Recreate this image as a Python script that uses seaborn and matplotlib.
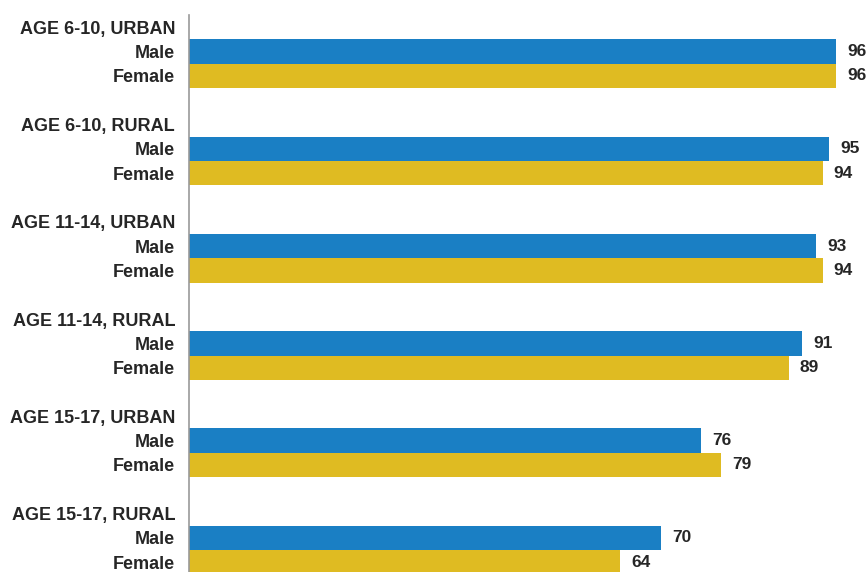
import pandas as pd
import matplotlib.pyplot as plt
import seaborn as sns

groups = ["AGE 6-10, URBAN", "AGE 6-10, RURAL", "AGE 11-14, URBAN",
          "AGE 11-14, RURAL", "AGE 15-17, URBAN", "AGE 15-17, RURAL"]
male = [96, 95, 93, 91, 76, 70]
female = [96, 94, 94, 89, 79, 64]

# one row per bar, plus header and spacer rows for the y axis
rows = []
order = []
labels = []
for i, g in enumerate(groups):
    order.append(g)
    labels.append(g)
    rows.append({"key": g + "|M", "sex": "Male", "value": male[i]})
    rows.append({"key": g + "|F", "sex": "Female", "value": female[i]})
    order += [g + "|M", g + "|F"]
    labels += ["Male", "Female"]
    if i < len(groups) - 1:
        order.append(g + "|gap")
        labels.append("")
df = pd.DataFrame(rows)

sns.set_style("white")
plt.rcParams["font.family"] = ["Liberation Sans", "DejaVu Sans"]

fig = plt.figure(figsize=(8.68, 5.72), dpi=100)
ax = fig.add_axes([189 / 868, 0, 674 / 868, 557 / 572])

sns.barplot(data=df, x="value", y="key", hue="sex", order=order,
            hue_order=["Male", "Female"], dodge=False, width=1.0,
            saturation=1, linewidth=0,
            palette={"Male": "#1a7fc4", "Female": "#dfbb22"},
            legend=False, ax=ax)

for c in ax.containers:
    ax.bar_label(c, fmt="%d", padding=8, fontsize=12.5, fontweight="bold",
                 color="#262626")

ax.set_xlim(0, 100)
ax.set_ylim(len(order) - 0.6, -0.5)
ax.set_yticks(range(len(order)))
ax.set_yticklabels(labels, fontsize=13, fontweight="bold", color="#262626")
ax.tick_params(axis="y", length=0, pad=10)
ax.set_xticks([])
ax.set_xlabel("")
ax.set_ylabel("")
for s in ["top", "right", "bottom"]:
    ax.spines[s].set_visible(False)
ax.spines["left"].set_color("#999999")
ax.spines["left"].set_linewidth(1.2)

fig.savefig("out.png", dpi=100)
